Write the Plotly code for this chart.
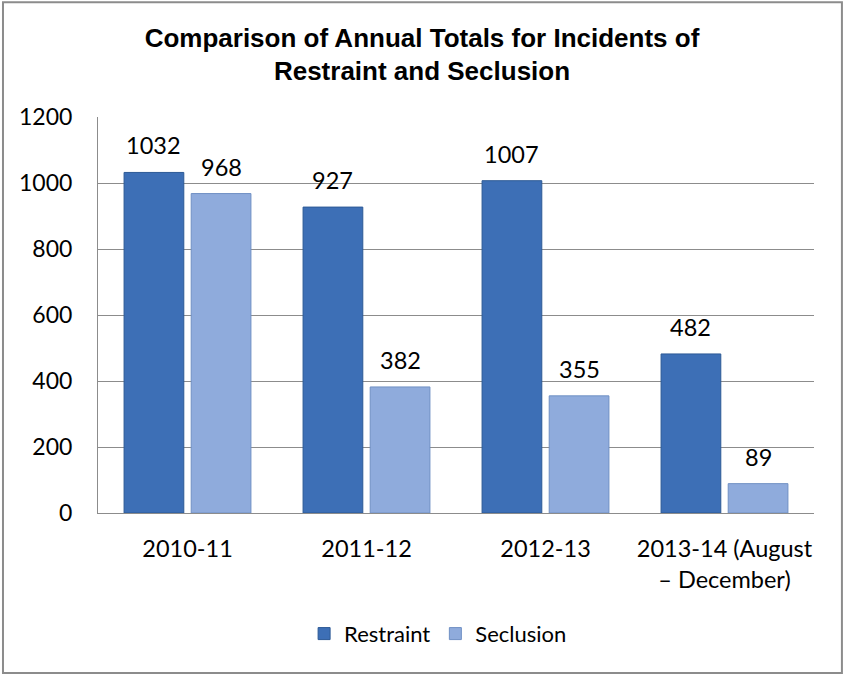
import plotly.graph_objects as go

categories = ["2010-11", "2011-12", "2012-13", "2013-14 (August<br>– December)"]
restraint = [1032, 927, 1007, 482]
seclusion = [968, 382, 355, 89]
y_ticks = [0, 200, 400, 600, 800, 1000, 1200]

font_body = "Lato, Carlito, Calibri, sans-serif"
BARGAP = 0.25
GROUPGAP = 0.11
slot = (1 - BARGAP) / 2
offsets = [-slot / 2, slot / 2]

fig = go.Figure()
fig.add_trace(go.Bar(
    name="Restraint", x=categories, y=restraint,
    marker=dict(color="#3d6fb6", line=dict(color="#2d5a96", width=1)),
))
fig.add_trace(go.Bar(
    name="Seclusion", x=categories, y=seclusion,
    marker=dict(color="#8fabdc", line=dict(color="#7090c4", width=1)),
))

annotations = []
for series, off in ((restraint, offsets[0]), (seclusion, offsets[1])):
    for i, v in enumerate(series):
        annotations.append(dict(
            x=i + off, y=v, xref="x", yref="y", text=str(v), showarrow=False,
            yanchor="bottom", yshift=11,
            font=dict(size=23.5, family=font_body, color="#000000"),
        ))

fig.update_layout(
    width=844, height=675,
    paper_bgcolor="white", plot_bgcolor="white",
    margin=dict(l=98, r=30, t=117, b=162, autoexpand=False),
    barmode="group", bargap=BARGAP, bargroupgap=GROUPGAP,
    title=dict(
        text="<b>Comparison of Annual Totals for Incidents of<br>Restraint and Seclusion</b>",
        x=0.5, xanchor="center", y=0.931, yanchor="middle",
        font=dict(family="Liberation Sans, Arial, sans-serif", size=26, color="#000000"),
    ),
    font=dict(family=font_body, size=23, color="#000000"),
    legend=dict(
        orientation="h", x=0.475, xanchor="center", y=-0.305, yanchor="middle",
        font=dict(size=22, family=font_body), itemwidth=30, traceorder="normal",
    ),
    yaxis=dict(
        range=[0, 1200], tickvals=y_ticks, showgrid=True, gridcolor="#8c8c8c", gridwidth=1,
        showline=True, linecolor="#8c8c8c", linewidth=1, ticks="", tickfont=dict(size=23),
        zeroline=False, ticklabelstandoff=20, automargin=False,
    ),
    xaxis=dict(
        type="category", tickangle=0,
        showline=True, linecolor="#8c8c8c", linewidth=1, ticks="", tickfont=dict(size=23.5),
        ticklabelstandoff=15, automargin=False,
    ),
    annotations=annotations,
    shapes=[dict(
        type="rect", xref="paper", yref="paper",
        x0=-0.1327, x1=1.039, y0=-0.404, y1=1.29,
        line=dict(color="#8c8c8c", width=2), fillcolor="rgba(0,0,0,0)", layer="below",
    )],
)

fig.write_html("out.html", config={"displayModeBar": False},
               post_script="document.body.style.margin='0';")
